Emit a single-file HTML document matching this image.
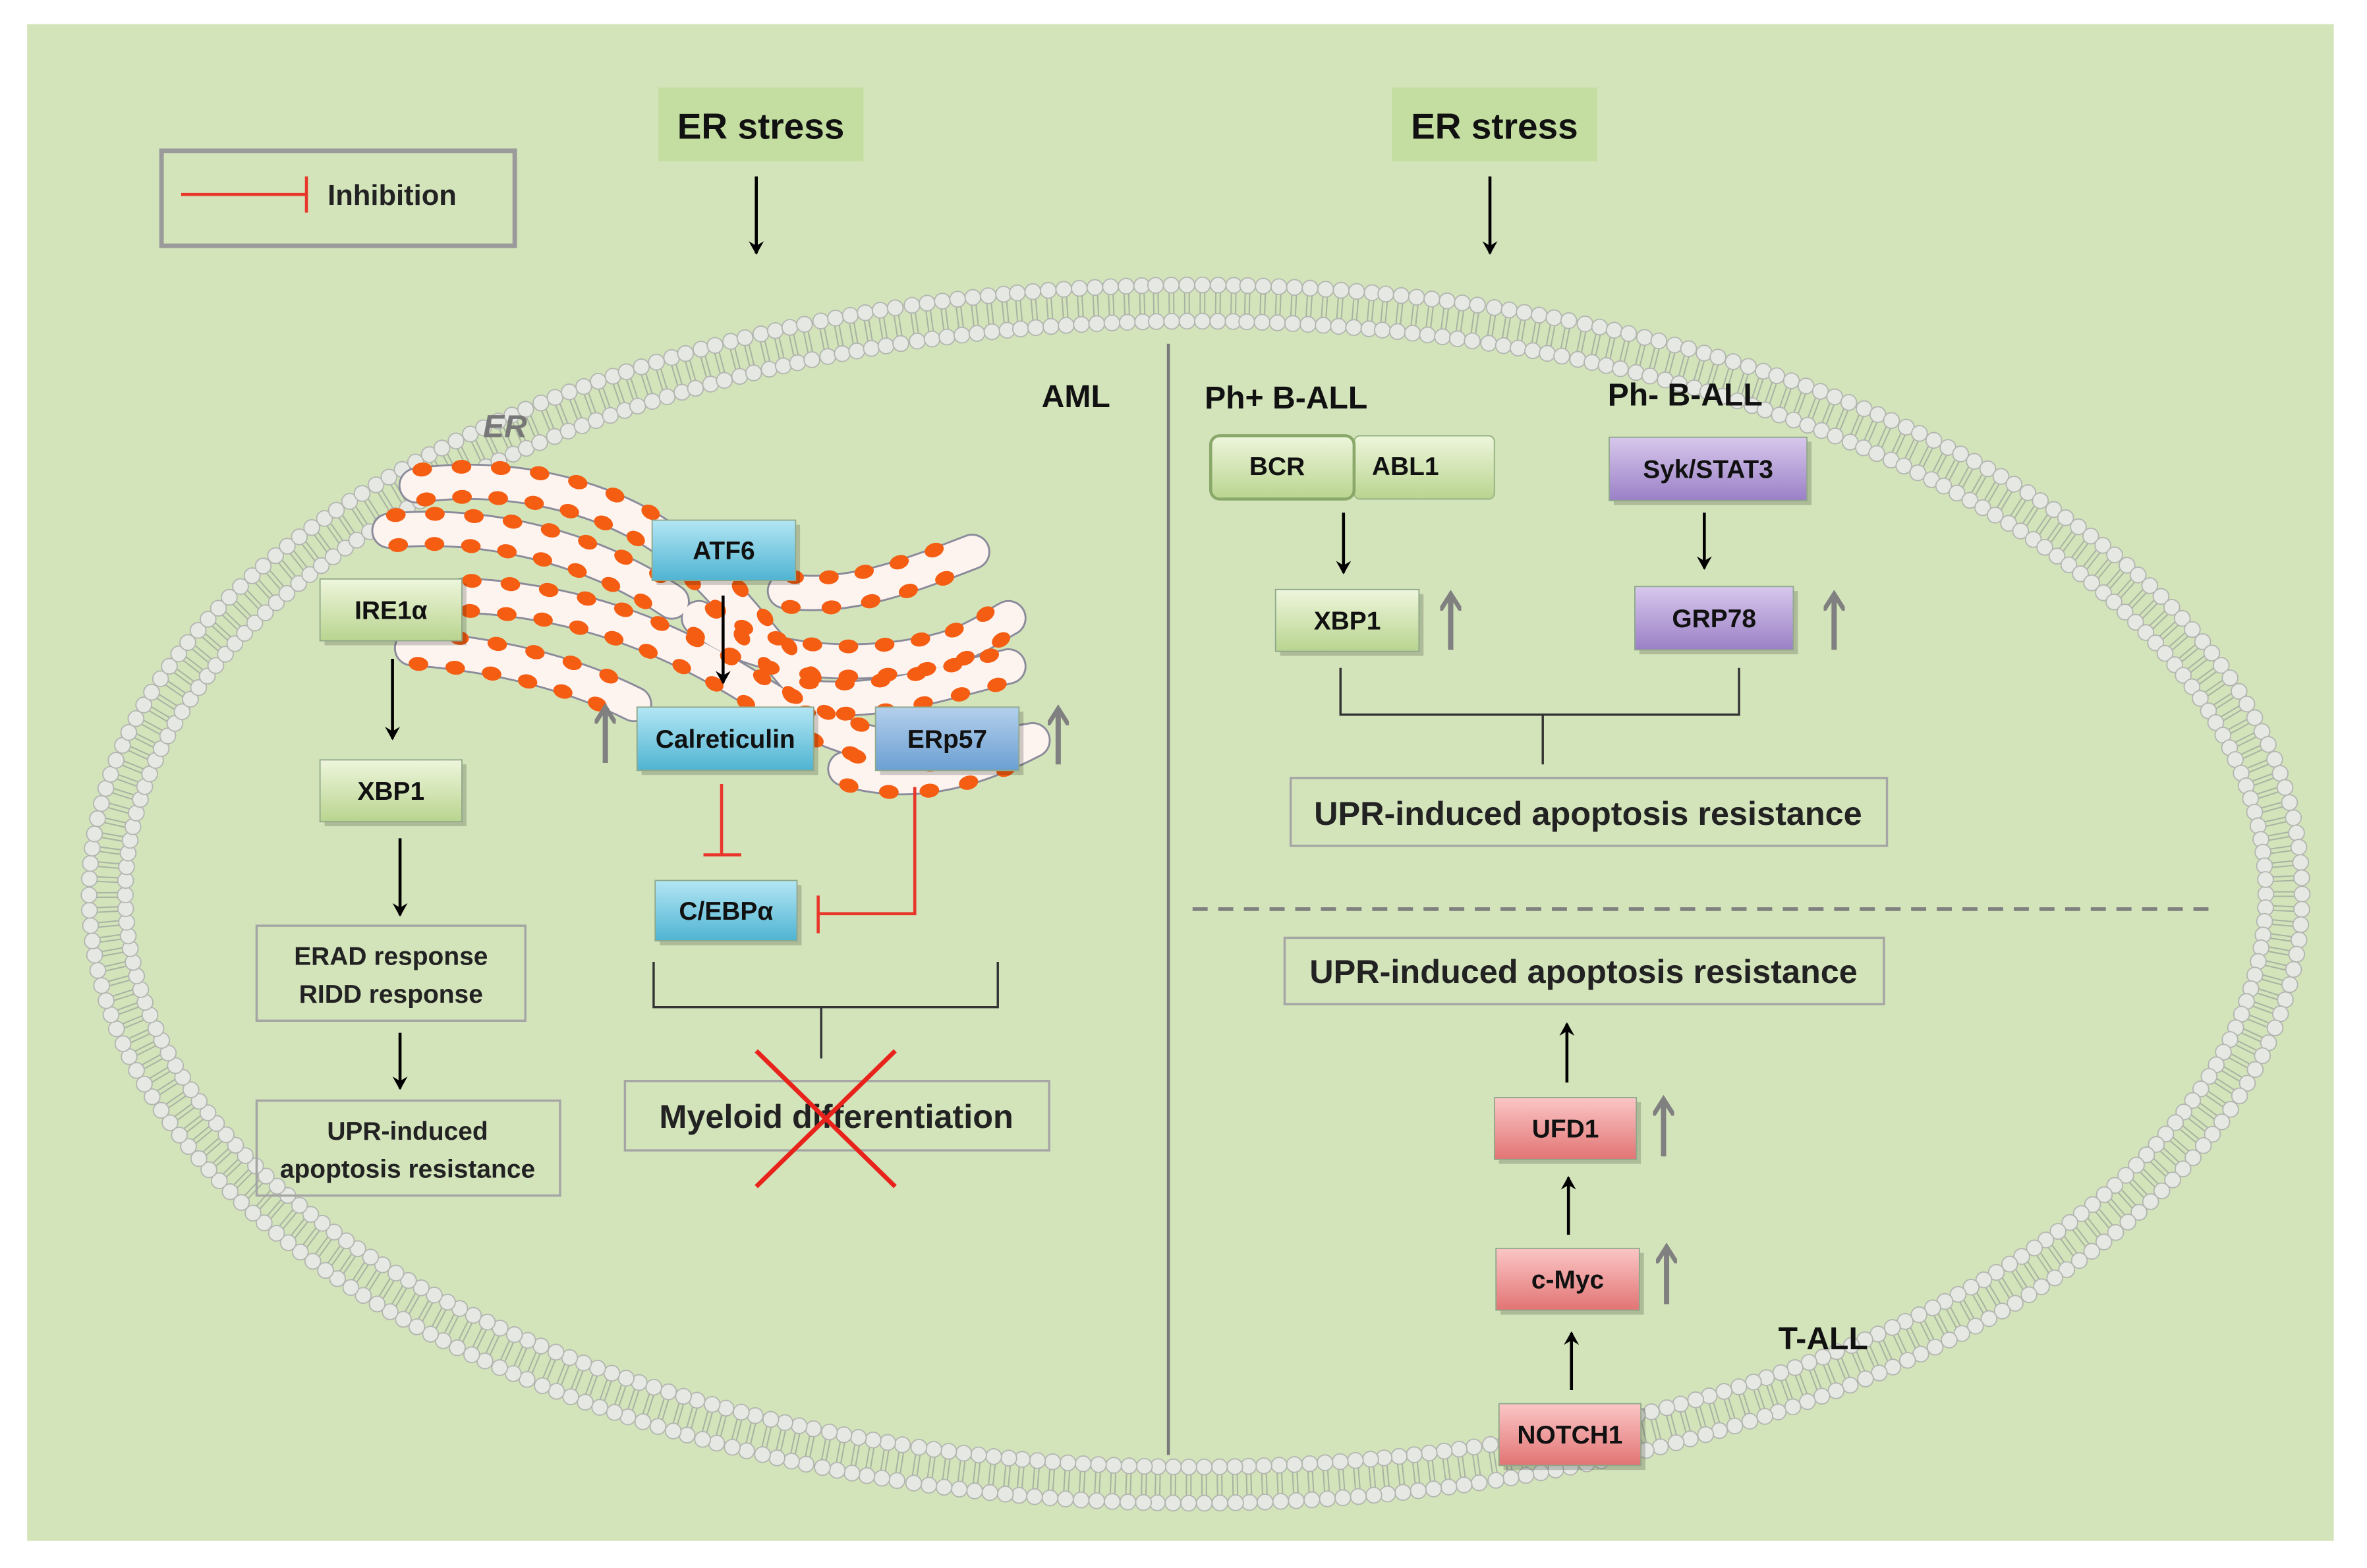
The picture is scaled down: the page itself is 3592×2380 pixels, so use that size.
<!DOCTYPE html>
<html><head><meta charset="utf-8"><style>
html,body{margin:0;padding:0;background:#fff;}
svg{display:block;}
text{font-family:"Liberation Sans",sans-serif;font-weight:bold;}
</style></head><body>
<svg id="s" width="3592" height="2380" viewBox="0 0 1568 1040" preserveAspectRatio="none" xmlns="http://www.w3.org/2000/svg">
<defs>
<linearGradient id="gG" x1="0" y1="0" x2="0" y2="1"><stop offset="0" stop-color="#eef6dc"/><stop offset="1" stop-color="#b9d48f"/></linearGradient>
<linearGradient id="gB" x1="0" y1="0" x2="0" y2="1"><stop offset="0" stop-color="#b3e6f4"/><stop offset="1" stop-color="#4fb4d2"/></linearGradient>
<linearGradient id="gE" x1="0" y1="0" x2="0" y2="1"><stop offset="0" stop-color="#b4d0ec"/><stop offset="1" stop-color="#6b9fd2"/></linearGradient>
<linearGradient id="gP" x1="0" y1="0" x2="0" y2="1"><stop offset="0" stop-color="#d8c8ec"/><stop offset="1" stop-color="#9a80c6"/></linearGradient>
<linearGradient id="gR" x1="0" y1="0" x2="0" y2="1"><stop offset="0" stop-color="#fbc6c6"/><stop offset="1" stop-color="#e27474"/></linearGradient>
<marker id="ab" markerWidth="10" markerHeight="10" refX="8" refY="5" orient="auto" markerUnits="userSpaceOnUse"><path d="M0,0 L9,5 L0,10 L3,5 Z" fill="#000"/></marker>
<marker id="ag" markerWidth="14" markerHeight="14" refX="10" refY="7" orient="auto" markerUnits="userSpaceOnUse"><path d="M0,0 L11,7 L0,14" fill="none" stroke="#808080" stroke-width="3"/></marker>
</defs>
<rect x="18" y="16" width="1528" height="1006" fill="#d3e4bb"/>
<g id="mem"></g>
<g id="er"></g>

<rect x="107" y="100" width="234" height="63" fill="none" stroke="#9a9a9a" stroke-width="3"/>
<line x1="120" y1="129" x2="203" y2="129" stroke="#e8362a" stroke-width="2"/>
<line x1="203" y1="117" x2="203" y2="141" stroke="#e8362a" stroke-width="2"/>
<text x="217" y="136" font-size="19" fill="#222">Inhibition</text>

<rect x="436" y="58" width="136" height="49" fill="#c3dea0"/>
<text x="504" y="92" font-size="24" text-anchor="middle" fill="#111">ER stress</text>
<rect x="922" y="58" width="136" height="49" fill="#c3dea0"/>
<text x="990" y="92" font-size="24" text-anchor="middle" fill="#111">ER stress</text>

<g stroke="#000" stroke-width="2" fill="none" marker-end="url(#ab)">
<line x1="501" y1="117" x2="501" y2="168"/>
<line x1="987" y1="117" x2="987" y2="168"/>
<line x1="260" y1="437" x2="260" y2="490"/>
<line x1="265" y1="556" x2="265" y2="607"/>
<line x1="265" y1="685" x2="265" y2="722"/>
<line x1="479" y1="395" x2="479" y2="453"/>
<line x1="890" y1="340" x2="890" y2="380"/>
<line x1="1129" y1="340" x2="1129" y2="377"/>
<line x1="1041" y1="922" x2="1041" y2="884"/>
<line x1="1039" y1="819" x2="1039" y2="781"/>
<line x1="1038" y1="718" x2="1038" y2="679"/>
</g>

<line x1="774" y1="228" x2="774" y2="965" stroke="#7a7a7a" stroke-width="2"/>
<line x1="790" y1="603" x2="1468" y2="603" stroke="#808080" stroke-width="2.5" stroke-dasharray="10,7"/>

<text x="690" y="270" font-size="21" fill="#111">AML</text>
<text x="320" y="290" font-size="21" fill="#777" font-style="italic">ER</text>
<text x="798" y="271" font-size="21" fill="#111">Ph+ B-ALL</text>
<text x="1065" y="269" font-size="21" fill="#111">Ph- B-ALL</text>
<text x="1178" y="895" font-size="21" fill="#111">T-ALL</text>

<g id="boxes"></g>

<g fill="none" stroke="#a5a5a5" stroke-width="1.5">
<rect x="170" y="614" width="178" height="63"/>
<rect x="170" y="730" width="201" height="63"/>
<rect x="414" y="717" width="281" height="46"/>
<rect x="855" y="516" width="395" height="45"/>
<rect x="851" y="622" width="397" height="44"/>
</g>
<g font-size="17" fill="#222" text-anchor="middle">
<text x="259" y="640">ERAD response</text>
<text x="259" y="665">RIDD response</text>
<text x="270" y="756">UPR-induced</text>
<text x="270" y="781">apoptosis resistance</text>
</g>
<text x="554" y="748" font-size="22" fill="#222" text-anchor="middle">Myeloid differentiation</text>
<text x="1052" y="547" font-size="22" fill="#222" text-anchor="middle">UPR-induced apoptosis resistance</text>
<text x="1049" y="652" font-size="22" fill="#222" text-anchor="middle">UPR-induced apoptosis resistance</text>

<g stroke="#808080" stroke-width="3.5" fill="none" marker-end="url(#ag)">
<line x1="401" y1="506" x2="401" y2="470"/>
<line x1="701" y1="507" x2="701" y2="471"/>
<line x1="961" y1="431" x2="961" y2="395"/>
<line x1="1215" y1="431" x2="1215" y2="395"/>
<line x1="1102" y1="767" x2="1102" y2="730"/>
<line x1="1104" y1="865" x2="1104" y2="828"/>
</g>

<g stroke="#e8362a" stroke-width="2" fill="none">
<line x1="478" y1="520" x2="478" y2="567"/>
<line x1="466" y1="567" x2="491" y2="567"/>
<polyline points="606,522 606,606 542,606"/>
<line x1="542" y1="594" x2="542" y2="619"/>
</g>

<g stroke="#333" stroke-width="1.5" fill="none">
<polyline points="433,638 433,668 661,668 661,638"/>
<line x1="544" y1="668" x2="544" y2="702"/>
<polyline points="888,443 888,474 1152,474 1152,443"/>
<line x1="1022" y1="474" x2="1022" y2="507"/>
</g>
<g stroke="#e8231c" stroke-width="3">
<line x1="501" y1="697" x2="593" y2="787"/>
<line x1="593" y1="697" x2="501" y2="787"/>
</g>
</svg>
<script>
var NS="http://www.w3.org/2000/svg";
function el(t,a,p){var e=document.createElementNS(NS,t);for(var k in a)e.setAttribute(k,a[k]);p.appendChild(e);return e;}
(function(){
var g=document.getElementById('mem'),cx=792,cy=593,rx=733,ry=404,d=24;
var N=4000,pts=[],L=[0];
for(var i=0;i<=N;i++){var t=2*Math.PI*i/N;pts.push([Math.cos(t),Math.sin(t)]);if(i>0){var a=pts[i-1],b=pts[i];L.push(L[i-1]+Math.hypot((b[0]-a[0])*rx,(b[1]-a[1])*ry));}}
var tot=L[N],n=Math.round(tot/10.2),j=0,out="";
for(var k=0;k<n;k++){var s=tot*k/n;while(L[j+1]<s)j++;var t=2*Math.PI*j/N;
var c=Math.cos(t),sn=Math.sin(t);var x=cx+rx*c,y=cy+ry*sn;
var nx=c/rx,ny=sn/ry,nl=Math.hypot(nx,ny);nx/=nl;ny/=nl;
var x2=x-nx*d,y2=y-ny*d;
var tx=-ny*1.5,ty=nx*1.5;
out+='<line x1="'+(x-nx*5+tx)+'" y1="'+(y-ny*5+ty)+'" x2="'+(x2+nx*5+tx)+'" y2="'+(y2+ny*5+ty)+'" stroke="#a9b3a2" stroke-width="0.9"/>';
out+='<line x1="'+(x-nx*5-tx)+'" y1="'+(y-ny*5-ty)+'" x2="'+(x2+nx*5-tx)+'" y2="'+(y2+ny*5-ty)+'" stroke="#a9b3a2" stroke-width="0.9"/>';
out+='<circle cx="'+x+'" cy="'+y+'" r="5.2" fill="#e6e8e3" stroke="#b3b6b0" stroke-width="0.8"/>';
out+='<circle cx="'+x2+'" cy="'+y2+'" r="5.2" fill="#e6e8e3" stroke="#b3b6b0" stroke-width="0.8"/>';}
g.innerHTML=out;})();
(function(){
var g=document.getElementById('er');
var tubes=["M276,322 C330,314 390,326 432,352 S500,420 545,470",
"M258,352 C320,346 390,362 445,399",
"M307,395 C380,398 440,420 500,458 S600,505 684,491",
"M273,430 C330,434 380,447 420,467",
"M520,392 C560,398 600,383 644,366",
"M463,410 C500,440 560,442 600,436 S650,420 668,410",
"M530,462 C580,468 620,454 668,442",
"M560,510 C600,522 640,514 684,491"];
tubes.forEach(function(d){el('path',{d:d,fill:'none',stroke:'#8a8a9a','stroke-width':24,'stroke-linecap':'round'},g);});
tubes.forEach(function(d){el('path',{d:d,fill:'none',stroke:'#fdf3ef','stroke-width':21.5,'stroke-linecap':'round'},g);});
tubes.forEach(function(d){var p=el('path',{d:d,fill:'none',stroke:'none'},g);var len=p.getTotalLength();
for(var s=5;s<len;s+=25){var a=p.getPointAtLength(s),b=p.getPointAtLength(Math.min(len,s+1)),c=p.getPointAtLength(Math.max(0,s-1));
var dx=b.x-c.x,dy=b.y-c.y,l=Math.hypot(dx,dy)||1;dx/=l;dy/=l;var ang=Math.atan2(dy,dx)*180/Math.PI;
[-10,10].forEach(function(o){var x=a.x-dy*o,y=a.y+dx*o;el('ellipse',{cx:x,cy:y,rx:6.5,ry:4.6,fill:'#f45d12',transform:'rotate('+ang+' '+x+' '+y+')'},g);});}});
})();
(function(){
var g=document.getElementById('boxes');
var B=[[212,384,94,41,'gG','IRE1α'],[212,504,94,41,'gG','XBP1'],[432,345,95,40,'gB','ATF6'],[422,469,117,42,'gB','Calreticulin'],[580,469,95,42,'gE','ERp57'],[434,584,94,40,'gB','C/EBPα'],
[1066,290,131,42,'gP','Syk/STAT3'],[845,391,95,41,'gG','XBP1'],[1083,389,105,42,'gP','GRP78'],[990,728,94,41,'gR','UFD1'],[991,828,95,41,'gR','c-Myc'],[993,931,94,41,'gR','NOTCH1']];
B.forEach(function(b){el('rect',{x:b[0]+3,y:b[1]+3,width:b[2],height:b[3],fill:'#000',opacity:0.18},g);
el('rect',{x:b[0],y:b[1],width:b[2],height:b[3],fill:'url(#'+b[4]+')',stroke:'#8fa88a','stroke-width':0.8},g);
var t=el('text',{x:b[0]+b[2]/2,y:b[1]+b[3]/2+6,'font-size':17,'text-anchor':'middle',fill:'#111'},g);t.textContent=b[5];});
el('rect',{x:897,y:289,width:93,height:42,rx:4,fill:'url(#gG)',stroke:'#9fb98a','stroke-width':1},g);
el('rect',{x:802,y:289,width:95,height:42,rx:6,fill:'url(#gG)',stroke:'#8aa86a','stroke-width':2},g);
var t=el('text',{x:846,y:315,'font-size':17,'text-anchor':'middle',fill:'#111'},g);t.textContent='BCR';
t=el('text',{x:931,y:315,'font-size':17,'text-anchor':'middle',fill:'#111'},g);t.textContent='ABL1';
})();
</script>
</body></html>
